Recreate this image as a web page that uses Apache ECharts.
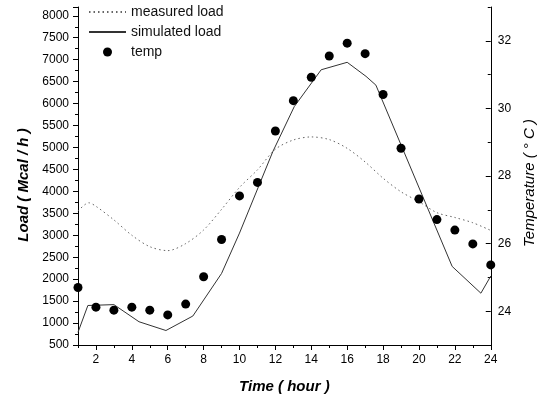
<!DOCTYPE html>
<html>
<head>
<meta charset="utf-8">
<script src="https://cdn.jsdelivr.net/npm/echarts@6/dist/echarts.min.js"></script>
<style>
html,body{margin:0;padding:0;background:#fff;}
#chart{width:545px;height:405px;}
</style>
</head>
<body>
<div id="chart"></div>
<script>
// ---- data ----
const hours = [1,2,3,4,5,6,7,8,9,10,11,12,13,14,15,16,17,18,19,20,21,22,23,24];
const tempValues = [24.70,24.12,24.03,24.12,24.03,23.89,24.21,25.02,26.12,27.41,27.81,29.33,30.23,30.92,31.55,31.93,31.62,30.41,28.82,27.32,26.71,26.40,25.99,25.37];

const measuredHours = [1,1.6,2,3,4,5,6,7,8,9,10,11,12,13,14,15,16,17,18,19,20,21,22,23,24];
const measuredLoad = [3550,3740,3660,3350,3000,2740,2650,2810,3120,3590,4090,4490,4960,5170,5240,5180,4980,4670,4300,3990,3765,3515,3405,3285,3110];

const simulatedHours = [1,1.55,3,4.4,5.9,7.4,9,10,11.85,13.05,14.55,16,17.05,17.6,21.85,23.45,24];
const simulatedLoad = [790,1400,1420,1030,830,1160,2130,3050,4900,5930,6770,6940,6620,6420,2290,1680,2070];

const xTickLabels = [2,4,6,8,10,12,14,16,18,20,22,24];
const xMinorTicks = [1,3,5,7,9,11,13,15,17,19,21,23];
const tempTickLabels = [24,26,28,30,32];
const tempMinorTicks = [23,25,27,29,31,33];

const seriesNames = ['measured load','simulated load','temp'];
const axisTitles = { x: 'Time ( hour )', yLeft: 'Load ( Mcal / h )', yRight: 'Temperature ( ° C )' };

// ---- chart ----
const FONT = '"Liberation Sans", Arial, sans-serif';
const zip = (a, b) => a.map((v, i) => [v, b[i]]);
const black = '#000';

const chart = echarts.init(document.getElementById('chart'), null, {renderer: 'canvas'});
chart.setOption({
  animation: false,
  backgroundColor: '#fff',
  textStyle: { fontFamily: FONT },
  grid: { left: 78, right: 53, top: 7, bottom: 60, containLabel: false },
  legend: {
    orient: 'vertical',
    left: 88, top: 5, padding: 0,
    itemWidth: 37, itemHeight: 9, itemGap: 6,
    textStyle: { fontFamily: FONT, fontSize: 14, color: '#111', lineHeight: 14 },
    data: [
      { name: seriesNames[0], itemStyle: { opacity: 0 } },
      { name: seriesNames[1], itemStyle: { opacity: 0 } },
      { name: seriesNames[2], icon: 'circle', itemStyle: { opacity: 1 } }
    ]
  },
  xAxis: [
    {
      type: 'value', min: 1, max: 24, position: 'bottom',
      name: axisTitles.x, nameLocation: 'middle', nameGap: 34,
      nameTextStyle: { fontFamily: FONT, fontSize: 15, fontWeight: 'bold', fontStyle: 'italic', color: black },
      axisLine: { onZero: false, lineStyle: { color: black, width: 1 } },
      axisTick: { customValues: xTickLabels, length: 5, lineStyle: { color: black } },
      axisLabel: { customValues: xTickLabels, margin: 9, fontSize: 12, color: black, fontFamily: FONT },
      splitLine: { show: false }
    },
    {
      type: 'value', min: 1, max: 24, position: 'bottom',
      axisLine: { show: false, onZero: false },
      axisTick: { customValues: xMinorTicks, length: 3, lineStyle: { color: black } },
      axisLabel: { show: false },
      splitLine: { show: false }
    }
  ],
  yAxis: [
    {
      type: 'value', min: 500, max: 8200, interval: 500, position: 'left',
      name: axisTitles.yLeft, nameLocation: 'middle', nameGap: 46,
      nameTextStyle: { fontFamily: FONT, fontSize: 15, fontWeight: 'bold', fontStyle: 'italic', color: black,
                       padding: [0, 18, 0, 0] },
      axisLine: { show: true, onZero: false, lineStyle: { color: black, width: 1 } },
      axisTick: { show: true, length: 5, lineStyle: { color: black } },
      minorTick: { show: true, splitNumber: 2, length: 3, lineStyle: { color: black } },
      axisLabel: { margin: 9, fontSize: 12, color: black, fontFamily: FONT, showMaxLabel: false,
                   formatter: v => String(v) },
      splitLine: { show: false },
      minorSplitLine: { show: false }
    },
    {
      type: 'value', min: 23, max: 33, position: 'right',
      name: axisTitles.yRight, nameLocation: 'middle', nameGap: 27,
      nameTextStyle: { fontFamily: FONT, fontSize: 15, fontStyle: 'italic', color: black,
                       padding: [0, 14, 0, 0] },
      axisLine: { show: true, onZero: false, lineStyle: { color: black, width: 1 } },
      axisTick: { show: true, inside: true, customValues: tempTickLabels, length: 5, lineStyle: { color: black } },
      axisLabel: { customValues: tempTickLabels, margin: 7, fontSize: 12, color: black, fontFamily: FONT },
      splitLine: { show: false }
    },
    {
      type: 'value', min: 23, max: 33, position: 'right',
      axisLine: { show: false, onZero: false },
      axisTick: { show: true, inside: true, customValues: tempMinorTicks, length: 3, lineStyle: { color: black } },
      axisLabel: { show: false },
      splitLine: { show: false }
    }
  ],
  series: [
    {
      name: seriesNames[0], type: 'line', xAxisIndex: 0, yAxisIndex: 0,
      data: zip(measuredHours, measuredLoad),
      symbol: 'none', smooth: 0.3,
      lineStyle: { color: '#666', width: 1, type: [1.5, 3] },
      itemStyle: { color: '#666' }, z: 2
    },
    {
      name: seriesNames[1], type: 'line', xAxisIndex: 0, yAxisIndex: 0,
      data: zip(simulatedHours, simulatedLoad),
      symbol: 'none',
      lineStyle: { color: '#333', width: 1 },
      itemStyle: { color: '#333' }, z: 3
    },
    {
      name: seriesNames[2], type: 'scatter', xAxisIndex: 0, yAxisIndex: 1,
      data: zip(hours, tempValues),
      symbol: 'circle', symbolSize: 9,
      itemStyle: { color: '#000', opacity: 1 }, z: 4
    }
  ]
});
</script>
</body>
</html>
